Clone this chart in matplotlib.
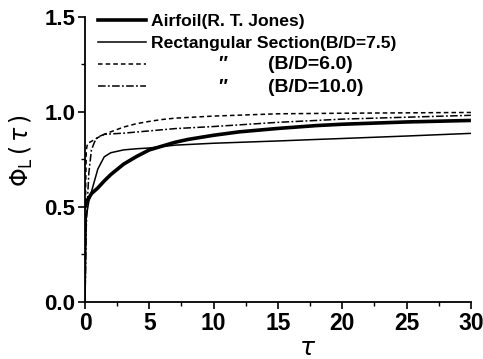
import matplotlib
matplotlib.use("Agg")
import matplotlib.pyplot as plt
from matplotlib.ticker import MultipleLocator
from matplotlib.lines import Line2D

plt.rcParams['font.family'] = ['Liberation Sans', 'DejaVu Sans']
plt.rcParams['mathtext.fontset'] = 'dejavusans'

# Airfoil (R. T. Jones)
tau_air = [0, 0.2, 0.5, 1, 1.5, 2, 3, 4, 5, 6, 7, 8, 10, 12, 15, 18, 20, 25, 30]
phi_air = [0.50, 0.535, 0.57, 0.60, 0.637, 0.67, 0.725, 0.765, 0.80, 0.82, 0.84,
           0.855, 0.877, 0.895, 0.913, 0.928, 0.935, 0.947, 0.955]

# Rectangular section B/D=7.5
tau_r75 = [0, 0.1, 0.3, 0.5, 0.75, 1, 1.5, 2, 3, 4, 5, 7, 10, 15, 18, 20, 25, 30]
phi_r75 = [0.0, 0.45, 0.53, 0.58, 0.64, 0.70, 0.764, 0.785, 0.80, 0.806, 0.81,
           0.825, 0.835, 0.847, 0.855, 0.86, 0.873, 0.887]

# Rectangular section B/D=6.0
tau_r60 = [0, 0.05, 0.1, 0.2, 0.5, 0.75, 1, 1.5, 2, 3, 4, 5, 6, 7, 10, 15, 20, 25, 30]
phi_r60 = [0.0, 0.6, 0.8, 0.834, 0.845, 0.855, 0.865, 0.882, 0.895, 0.92, 0.938,
           0.95, 0.96, 0.967, 0.978, 0.99, 0.993, 0.995, 0.997]

# Rectangular section B/D=10.0
tau_r10 = [0, 0.1, 0.2, 0.3, 0.5, 0.75, 1, 1.5, 2, 3, 5, 7, 10, 15, 18, 20, 25, 30]
phi_r10 = [0.0, 0.40, 0.55, 0.68, 0.80, 0.843, 0.868, 0.882, 0.884, 0.888, 0.90,
           0.912, 0.923, 0.945, 0.955, 0.962, 0.972, 0.982]

xticks = [0, 5, 10, 15, 20, 25, 30]
yticks = [0.0, 0.5, 1.0, 1.5]
ytick_labels = ['0.0', '0.5', '1.0', '1.5']

fig = plt.figure(figsize=(4.83, 3.59), dpi=100)
ax = fig.add_axes([0.176, 0.159, 0.799, 0.794])

ax.plot(tau_air, phi_air, color='black', lw=2.6, solid_capstyle='butt')
ax.plot(tau_r75, phi_r75, color='black', lw=1.1)
ax.plot(tau_r60, phi_r60, color='black', lw=1.1, ls=(0, (3, 2)))
ax.plot(tau_r10, phi_r10, color='black', lw=1.1, ls=(0, (5, 1.5, 1.2, 1.5)))

ax.set_xlim(0, 30)
ax.set_ylim(0, 1.5)
ax.set_xticks(xticks)
ax.set_xticklabels([str(v) for v in xticks])
ax.set_yticks(yticks)
ax.set_yticklabels(ytick_labels)
ax.xaxis.set_minor_locator(MultipleLocator(2.5))
ax.yaxis.set_minor_locator(MultipleLocator(0.25))
ax.tick_params(which='major', direction='out', length=5, width=1.2, pad=2)
ax.tick_params(which='minor', direction='out', length=3, width=1.0)
for lab in ax.get_xticklabels():
    lab.set_fontsize(16.5)
    lab.set_fontweight('bold')
for lab in ax.get_yticklabels():
    lab.set_fontsize(16)
    lab.set_fontweight('bold')

for s in ['top', 'right']:
    ax.spines[s].set_visible(False)
for s in ['left', 'bottom']:
    ax.spines[s].set_linewidth(1.3)

ax.set_xlabel(r'$\tau$', fontsize=18, labelpad=0)
ax.xaxis.set_label_coords(0.577, -0.12)
ax.set_ylabel(r'$\Phi_{\rm L}\,(\,\tau\,)$', fontsize=17)
ax.yaxis.set_label_coords(-0.13, 0.53)

handles = [
    Line2D([], [], color='black', lw=2.6),
    Line2D([], [], color='black', lw=1.1),
    Line2D([], [], color='black', lw=1.1, ls=(0, (3, 2))),
    Line2D([], [], color='black', lw=1.1, ls=(0, (5, 1.5, 1.2, 1.5))),
]
labels = ['Airfoil(R. T. Jones)', 'Rectangular Section(B/D=7.5)', ' ', ' ']
leg = ax.legend(handles, labels, loc='upper left', bbox_to_anchor=(0.015, 1.035),
                frameon=False, handlelength=2.75, handletextpad=0.3,
                labelspacing=0.38, borderaxespad=0.0,
                prop={'weight': 'bold', 'size': 12.6})

sub_marks = ['″', '″']
sub_labels = ['(B/D=6.0)', '(B/D=10.0)']
row_y = [0.832, 0.753]
for m, t, yy in zip(sub_marks, sub_labels, row_y):
    ax.text(0.355, yy, m, transform=ax.transAxes, fontsize=13.5, fontweight='bold',
            style='italic', ha='center', va='center',
            family=['Liberation Sans', 'DejaVu Sans'])
    ax.text(0.473, yy, t, transform=ax.transAxes, fontsize=14, fontweight='bold',
            ha='left', va='center')

fig.savefig('out.png', dpi=100)
